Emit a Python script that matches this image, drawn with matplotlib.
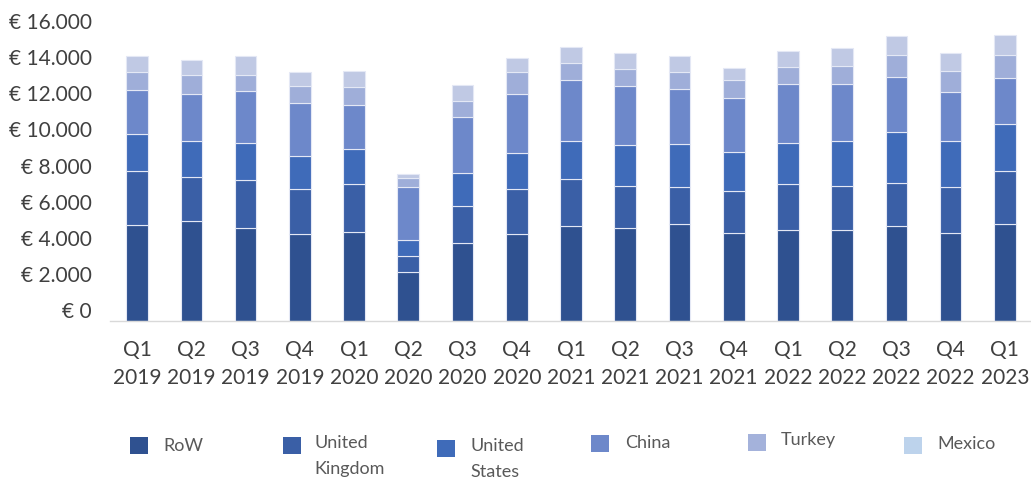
import matplotlib
matplotlib.use("Agg")
import matplotlib.pyplot as plt
import matplotlib.transforms as mtransforms
from matplotlib.patches import Rectangle
import numpy as np

# Quarterly revenue by region (EUR)
quarters = ["Q1\n2019", "Q2\n2019", "Q3\n2019", "Q4\n2019",
            "Q1\n2020", "Q2\n2020", "Q3\n2020", "Q4\n2020",
            "Q1\n2021", "Q2\n2021", "Q3\n2021", "Q4\n2021",
            "Q1\n2022", "Q2\n2022", "Q3\n2022", "Q4\n2022",
            "Q1\n2023"]

row    = [5320, 5540, 5170, 4800, 4940, 2690, 4300, 4800, 5260, 5170, 5390, 4890, 5020, 5020, 5260, 4890, 5390]
uk     = [2990, 2420, 2620, 2530, 2630,  930, 2080, 2530, 2620, 2320, 2030, 2310, 2550, 2470, 2380, 2530, 2920]
us     = [2030, 2010, 2080, 1810, 1940,  880, 1800, 1960, 2090, 2240, 2380, 2160, 2300, 2460, 2840, 2530, 2610]
china  = [2450, 2600, 2870, 2910, 2450, 2920, 3130, 3280, 3360, 3300, 3060, 2990, 3240, 3160, 3050, 2710, 2550]
turkey = [ 980, 1050,  880,  980, 1000,  520,  880, 1200,  960,  910,  910,  980,  970, 1030, 1220, 1180, 1280]
mexico = [ 900,  830, 1050,  740,  880,  200,  880,  810,  900,  880,  900,  660,  890,  980, 1050,  980, 1100]

series_names = ["RoW", "United\nKingdom", "United\nStates", "China", "Turkey", "Mexico"]
series_values = [row, uk, us, china, turkey, mexico]
bar_colors = ["#2F5190", "#3A5FA6", "#3F6BB9", "#6D88CA", "#9FAED9", "#C0C9E4"]
legend_colors = ["#2F5190", "#3A5FA6", "#3F6BB9", "#6D88CA", "#A4B2DB", "#BDD3EC"]

y_ticks = [0, 2000, 4000, 6000, 8000, 10000, 12000, 14000, 16000]

FONT = "Lato"
TEXT_COLOR = "#404040"

W, H = 1031, 483
fig = plt.figure(figsize=(W / 100, H / 100), dpi=100)

ax_left, ax_right, ax_bottom, ax_top = 110, 1032, 321, 32
ax = fig.add_axes([ax_left / W, 1 - ax_bottom / H,
                   (ax_right - ax_left) / W, (ax_bottom - ax_top) / H])

x = np.arange(len(quarters))
bottom = np.zeros(len(quarters))
for vals, color, name in zip(series_values, bar_colors, series_names):
    ax.bar(x, vals, width=0.40, bottom=bottom, color=color,
           edgecolor="#E4E8F5", linewidth=0.8, label=name, zorder=2)
    bottom += np.array(vals)

ax.set_xlim(-0.5, len(quarters) - 0.5)
ax.set_ylim(0, 16000)

for side in ["top", "right", "left"]:
    ax.spines[side].set_visible(False)
ax.spines["bottom"].set_color("#D9D9D9")
ax.spines["bottom"].set_linewidth(1.0)

ax.set_yticks(y_ticks)
ax.set_yticklabels(["€ " + f"{v:,}".replace(",", ".") for v in y_ticks],
                   fontsize=15, family=FONT, color=TEXT_COLOR)
ax.tick_params(axis="y", length=0, pad=13)
shift = mtransforms.ScaledTranslation(0, 11 / 100, fig.dpi_scale_trans)
for lbl in ax.get_yticklabels():
    lbl.set_transform(lbl.get_transform() + shift)

ax.set_xticks(x)
ax.set_xticklabels(quarters, fontsize=15, family=FONT, color=TEXT_COLOR,
                   linespacing=1.5)
ax.tick_params(axis="x", length=0, pad=14)

# Legend laid out in a single row below the axis: (patch x, patch y, text x, text y)
legend_items = [
    (130, 437, 163, 446),
    (283, 437, 314, 435),
    (437, 440, 470, 438),
    (591, 435, 625, 443),
    (748, 434, 781, 440),
    (904, 437, 937, 444),
]
for (px, py, tx, ty), name, color in zip(legend_items, series_names, legend_colors):
    fig.patches.append(Rectangle((px / W, 1 - (py + 17) / H), 18 / W, 17 / H,
                                 transform=fig.transFigure, facecolor=color,
                                 edgecolor="none"))
    fig.text(tx / W, 1 - ty / H, name, fontsize=13, family=FONT,
             color="#595959", ha="left", va="top" if "\n" in name else "center",
             linespacing=1.8)

fig.savefig("out.png", dpi=100, facecolor="white")
